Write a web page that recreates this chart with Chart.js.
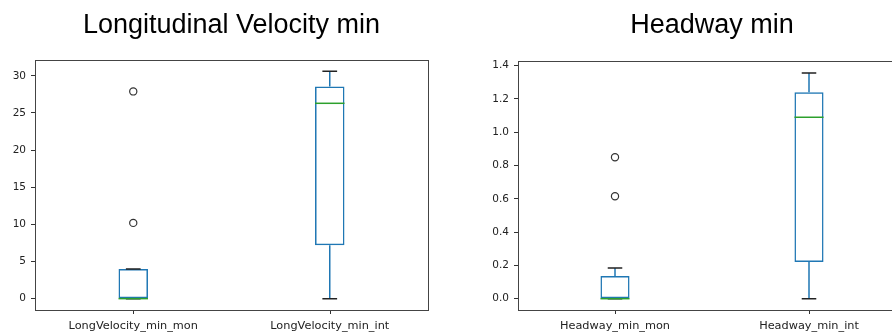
<!DOCTYPE html>
<html>
<head>
<meta charset="utf-8">
<script src="https://cdn.jsdelivr.net/npm/chart.js@4.4.0/dist/chart.umd.min.js"></script>
<style>
  html, body { margin: 0; padding: 0; background: #fff; }
  body { width: 892px; height: 332px; overflow: hidden; position: relative; }
  .panel { position: absolute; top: 0; height: 332px; }
</style>
</head>
<body>
<div class="panel" style="left:0px; width:440px;"><canvas id="velCanvas"></canvas></div>
<div class="panel" style="left:483px; width:440px;"><canvas id="hwCanvas"></canvas></div>

<script>
// Longitudinal velocity box plot
const velTitle = 'Longitudinal Velocity min';
const velLabels = ['LongVelocity_min_mon', 'LongVelocity_min_int'];
const velLow = [0, 0];
const velQ1 = [0, 7.2];
const velMedian = [0, 26.3];
const velQ3 = [4.0, 28.55];
const velHigh = [4.0, 30.6];
const velOutliers = [[10.2, 27.9], []];
const velTicks = [0, 5, 10, 15, 20, 25, 30];

// Headway box plot
const hwTitle = 'Headway min';
const hwLabels = ['Headway_min_mon', 'Headway_min_int'];
const hwLow = [0, 0];
const hwQ1 = [0, 0.22];
const hwMedian = [0, 1.09];
const hwQ3 = [0.136, 1.24];
const hwHigh = [0.184, 1.356];
const hwOutliers = [[0.615, 0.85], []];
const hwTicks = [0, 0.2, 0.4, 0.6, 0.8, 1.0, 1.2, 1.4];

const boxBlue = '#1f77b4';
const medGreen = '#2ca02c';
const frameColor = '#444';
const textColor = '#222';

// whiskers, caps, medians, frame, x tick marks and title, placed through the chart scales
const boxExtras = {
  id: 'boxExtras',
  afterDatasetsDraw(chart, args, opts) {
    const ctx = chart.ctx;
    const xs = chart.scales.x, ys = chart.scales.y;
    const meta = chart.getDatasetMeta(0);
    const a = chart.chartArea;
    ctx.save();
    meta.data.forEach(function (bar, i) {
      const cx = xs.getPixelForValue(i);
      const half = bar.width / 2;
      // whiskers
      ctx.strokeStyle = boxBlue;
      ctx.lineWidth = 1.5;
      ctx.beginPath();
      ctx.moveTo(cx, ys.getPixelForValue(opts.q3[i]));
      ctx.lineTo(cx, ys.getPixelForValue(opts.high[i]));
      ctx.moveTo(cx, ys.getPixelForValue(opts.q1[i]));
      ctx.lineTo(cx, ys.getPixelForValue(opts.low[i]));
      ctx.stroke();
      // caps
      ctx.strokeStyle = '#222';
      ctx.beginPath();
      [opts.high[i], opts.low[i]].forEach(function (v) {
        const y = ys.getPixelForValue(v);
        ctx.moveTo(cx - half / 2, y);
        ctx.lineTo(cx + half / 2, y);
      });
      ctx.stroke();
      // median
      ctx.strokeStyle = medGreen;
      ctx.beginPath();
      const my = ys.getPixelForValue(opts.median[i]);
      ctx.moveTo(cx - half, my);
      ctx.lineTo(cx + half, my);
      ctx.stroke();
      // x tick mark
      ctx.strokeStyle = '#333';
      ctx.lineWidth = 1;
      ctx.beginPath();
      ctx.moveTo(Math.round(cx) + 0.5, a.bottom);
      ctx.lineTo(Math.round(cx) + 0.5, a.bottom + 4);
      ctx.stroke();
    });
    // frame
    ctx.strokeStyle = frameColor;
    ctx.lineWidth = 1;
    ctx.strokeRect(Math.round(a.left) + 0.5, Math.round(a.top) + 0.5, Math.round(a.right - a.left), Math.round(a.bottom - a.top));
    // title
    ctx.fillStyle = '#000';
    ctx.font = '27px "Liberation Sans", Arial, sans-serif';
    ctx.textAlign = 'center';
    ctx.textBaseline = 'alphabetic';
    ctx.fillText(opts.title, (a.left + a.right) / 2, 33);
    ctx.restore();
  }
};

function makeBoxChart(canvasId, title, labels, low, q1, median, q3, high, outliers, ticks, yMin, yMax, decimals, padRight, padTop) {
  var outlierPts = [];
  outliers.forEach(function (list, i) {
    list.forEach(function (v) { outlierPts.push({ x: labels[i], y: v }); });
  });

  const data = {
    labels: labels,
    datasets: [
      {
        type: 'bar',
        data: q1.map(function (v, i) { return [v, q3[i]]; }),
        backgroundColor: 'rgba(0,0,0,0)',
        borderColor: boxBlue,
        borderWidth: 1.5,
        borderSkipped: false,
        barPercentage: 0.15,
        categoryPercentage: 1
      },
      {
        type: 'line',
        data: outlierPts,
        showLine: false,
        pointStyle: 'circle',
        pointRadius: 3.6,
        pointBorderWidth: 1.2,
        pointBorderColor: '#333',
        pointBackgroundColor: 'rgba(0,0,0,0)'
      }
    ]
  };

  const config = {
    type: 'bar',
    data: data,
    plugins: [boxExtras],
    options: {
      responsive: true,
      maintainAspectRatio: false,
      animation: false,
      layout: { padding: { left: 0, right: padRight, top: padTop, bottom: 0 } },
      plugins: {
        legend: { display: false },
        tooltip: { enabled: false },
        boxExtras: { title: title, low: low, q1: q1, median: median, q3: q3, high: high }
      },
      scales: {
        x: {
          grid: { display: false },
          border: { display: false },
          ticks: { color: textColor, font: { family: 'DejaVu Sans', size: 11.3 }, padding: 1, maxRotation: 0 },
          afterFit: function (scale) { scale.height = 22; }
        },
        y: {
          min: yMin,
          max: yMax,
          grid: { drawOnChartArea: false, drawTicks: true, tickLength: 4, tickColor: '#333' },
          border: { display: false },
          ticks: {
            color: textColor,
            font: { family: 'DejaVu Sans', size: 10.5 },
            padding: 5,
            callback: function (v) { return decimals ? Number(v).toFixed(decimals) : String(v); }
          },
          afterBuildTicks: function (scale) {
            scale.ticks = ticks.map(function (v) { return { value: v }; });
          },
          afterFit: function (scale) { scale.width = 35; }
        }
      }
    }
  };

  return new Chart(document.getElementById(canvasId), config);
}

makeBoxChart('velCanvas', velTitle, velLabels, velLow, velQ1, velMedian, velQ3, velHigh, velOutliers, velTicks, -1.53, 32.13, 0, 12, 60);
makeBoxChart('hwCanvas', hwTitle, hwLabels, hwLow, hwQ1, hwMedian, hwQ3, hwHigh, hwOutliers, hwTicks, -0.068, 1.428, 1, 17, 61);
</script>
</body>
</html>
